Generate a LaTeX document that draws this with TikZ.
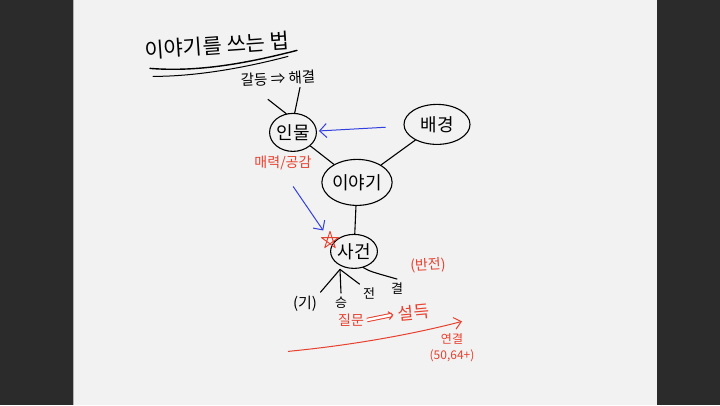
\documentclass[tikz,border=0pt]{standalone}
\usepackage{fontspec}
\setmainfont{Noto Sans CJK KR}
\usetikzlibrary{arrows.meta,shapes.geometric}
\definecolor{pagegray}{HTML}{F2F2F2}
\definecolor{sidegray}{HTML}{2B2B2B}
\definecolor{inkred}{HTML}{E8402E}
\definecolor{inkblue}{HTML}{3340E0}
\tikzset{
  bubble/.style={draw, ellipse, line width=1.1pt, inner sep=0pt, font=\fontsize{18}{18}\selectfont},
  redtext/.style={text=inkred, inner sep=1pt},
  bluearrow/.style={draw=inkblue, line width=1pt, -{Straight Barb[length=7pt,width=14pt]}},
  redarrow/.style={draw=inkred, line width=1pt, -{Straight Barb[length=7pt,width=12pt]}},
  stroke/.style={line width=1.1pt, line cap=round}
}
\begin{document}
\begin{tikzpicture}[x=1pt,y=-1pt]  %1 unidade = 1 pixel
    %Fundo
  \fill[sidegray] (0,0) rectangle (720,405);
  \fill[pagegray] (73,0) rectangle (657,405);
  \draw[gray!60, line width=0.8pt] (73.5,0) -- (73.5,405);
    %Titulo
  \node[rotate=4, font=\fontsize{21}{21}\selectfont] (title) at (217,45) {이야기를 쓰는 법};
  \draw[line width=1.4pt, line cap=round] (150,68) .. controls (200,72) and (250,62) .. (297,50); %Sublinhado 1
  \draw[line width=1pt, line cap=round] (153,76) .. controls (200,76) and (250,66) .. (288,56); %Sublinhado 2
  \node[rotate=3, font=\fontsize{14.5}{14.5}\selectfont] (conflict) at (278,78) {갈등 ⇒ 해결};
    %Bolhas
  \node[bubble, minimum width=44pt, minimum height=38pt] (inmul) at (293,132) {인물};
  \node[bubble, minimum width=66pt, minimum height=40pt] (baegyeong) at (437,124) {배경};
  \node[bubble, minimum width=62pt, minimum height=46pt] (iyagi) at (357,182) {이야기};
  \node[bubble, minimum width=46pt, minimum height=34pt] (sageon) at (354,251) {사건};
    %Ligacoes
  \coordinate (c1) at (268,99);
  \coordinate (c2) at (300,87);
  \draw[stroke] (c1) -- (inmul.110);
  \draw[stroke] (c2) -- (inmul.85);
  \draw[stroke] (inmul) -- (iyagi);
  \draw[stroke] (baegyeong) -- (iyagi);
  \draw[stroke] (iyagi) -- (sageon);
  \draw[bluearrow, shorten <=18pt, shorten >=2pt] (baegyeong) -- (inmul); %Seta azul
    %Rotulos vermelhos
  \node[redtext, font=\fontsize{14}{14}\selectfont] (gonggam) at (283,163) {매력/공감};
  \coordinate (star) at (330,240);
  \draw[shift={(star)}, inkred, line width=0.9pt, line join=round] (90:-9) -- (234:-9) -- (18:-9) -- (162:-9) -- (306:-9) -- cycle; %Estrela
  \draw[bluearrow, shorten <=18pt, shorten >=12pt] (gonggam.south) -- (star);
  \node[redtext, rotate=3, font=\fontsize{14}{14}\selectfont] (banjeon) at (428,265) {(반전)};
    %Ki-seung-jeon-gyeol
  \node[font=\fontsize{15}{15}\selectfont] (gi) at (305,303) {(기)};
  \node[font=\fontsize{13}{13}\selectfont] (seung) at (341,302) {승};
  \node[font=\fontsize{13}{13}\selectfont] (jeon) at (369,293) {전};
  \node[font=\fontsize{13}{13}\selectfont] (gyeol) at (397,288) {결};
  \coordinate (fork) at (340,269);
  \draw[stroke] (fork) -- (gi.north east);
  \draw[stroke] (fork) -- (seung.north);
  \draw[stroke] (fork) -- (jeon.north west);
  \draw[stroke] (sageon.300) .. controls (370,271) .. (gyeol.north);
    %Questao / persuasao
  \node[redtext, font=\fontsize{14}{14}\selectfont] (jilmun) at (351,320) {질문};
  \node[redtext, rotate=5, font=\fontsize{17}{17}\selectfont] (seoldeuk) at (414,312) {설득};
  \draw[inkred, line width=1pt, double distance=2.5pt, -{Straight Barb[length=4pt,width=8pt]}, shorten <=2pt, shorten >=4pt] (jilmun.east) -- (seoldeuk.west);
  \node[redtext, font=\fontsize{12}{12}\selectfont] (yeongyeol) at (452,339) {연결};
  \node[redtext, font=\fontsize{12}{12}\selectfont] (ratio) at (452,355) {(50,64+)};
  \coordinate (tail) at (288,351);
  \coordinate (head) at (462,321);
  \draw[redarrow] (tail) .. controls (360,344) and (420,332) .. (head); %Seta vermelha longa
\end{tikzpicture}
\end{document}
